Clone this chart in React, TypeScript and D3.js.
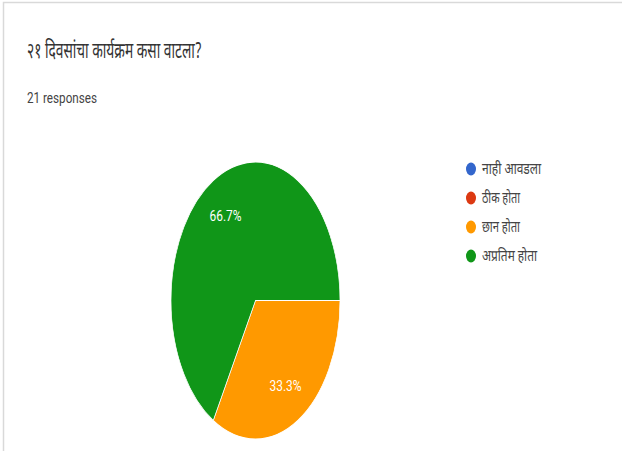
import React from "react";
import * as d3 from "d3";

const categories = ["नाही आवडला", "ठीक होता", "छान होता", "अप्रतिम होता"];
const counts = [0, 0, 7, 14];
const colors = ["#3366cc", "#dc3912", "#ff9900", "#109618"];
const title = "२१ दिवसांचा  कार्यक्रम कसा वाटला?";
const subtitle = "21 responses";

const W = 622;
const H = 451;

export default function App() {
  const total = d3.sum(counts);
  const R = 100;
  const cx = 255.5;
  const cy = 300.5;
  const rx = 84.5;
  const ry = 138.5;
  const pie = d3
    .pie<number>()
    .sort(null)
    .startAngle(Math.PI / 2)
    .endAngle(Math.PI / 2 + Math.PI * 2)
    .value((d) => d);
  const arcs = pie(counts);
  const arc = d3.arc<d3.PieArcDatum<number>>().innerRadius(0).outerRadius(R);
  const labelArc = d3.arc<d3.PieArcDatum<number>>().innerRadius(R * 0.71).outerRadius(R * 0.71);
  const legendY = d3.scalePoint<number>().domain(d3.range(categories.length)).range([169, 256]);
  const legendWidths = [59, 38, 38, 55];
  const font = "'Noto Sans Devanagari', 'Lohit Devanagari', 'Noto Sans', Roboto, sans-serif";

  return (
    <svg
      width={W}
      height={H}
      style={{ position: "fixed", left: 0, top: 0, background: "#fff" }}
    >
      <rect x={0} y={0} width={W} height={H} fill="#ffffff" />
      <rect x={3.5} y={2.5} width={W + 20} height={H + 20} fill="#fff" stroke="#d9d9d9" strokeWidth={1.5} />
      <text
        x={27}
        y={58}
        fontFamily={font}
        fontSize={22}
        fill="#333"
        textLength={175}
        lengthAdjust="spacingAndGlyphs"
      >
        {title}
      </text>
      <text
        x={27}
        y={103}
        fontFamily="Roboto, sans-serif"
        fontSize={14}
        fill="#444"
        textLength={70}
        lengthAdjust="spacingAndGlyphs"
      >
        {subtitle}
      </text>
      <g transform={`translate(${cx},${cy}) scale(${rx / R},${ry / R})`}>
        {arcs.map((a, i) =>
          a.value > 0 ? (
            <path
              key={i}
              d={arc(a) || ""}
              fill={colors[i]}
              stroke="#fff"
              strokeWidth={0.8}
            />
          ) : null
        )}
      </g>
      {arcs.map((a, i) => {
        if (a.value <= 0) return null;
        const [lx, ly] = labelArc.centroid(a);
        const pct = ((a.value / total) * 100).toFixed(1) + "%";
        return (
          <text
            key={i}
            x={cx + (lx * rx) / R}
            y={cy + (ly * ry) / R}
            dy="0.35em"
            textAnchor="middle"
            fontFamily="Roboto, sans-serif"
            fontSize={15}
            fill="#fff"
            textLength={32}
            lengthAdjust="spacingAndGlyphs"
          >
            {pct}
          </text>
        );
      })}
      {categories.map((c, i) => (
        <g key={c} transform={`translate(0,${legendY(i)})`}>
          <ellipse cx={471} cy={0} rx={5} ry={6.5} fill={colors[i]} />
          <text
            x={482}
            y={0}
            dy="0.35em"
            fontFamily={font}
            fontSize={15.5}
            fill="#444"
            textLength={legendWidths[i]}
            lengthAdjust="spacingAndGlyphs"
          >
            {c}
          </text>
        </g>
      ))}
    </svg>
  );
}
